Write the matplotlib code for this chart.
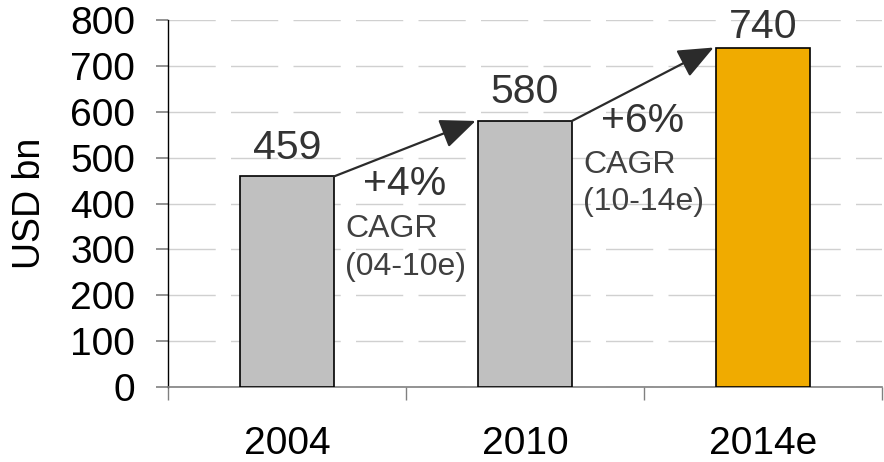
import matplotlib
matplotlib.use("Agg")
import matplotlib.pyplot as plt

categories = ["2004", "2010", "2014e"]
values = [459, 580, 740]
bar_colors = ["#C0C0C0", "#C0C0C0", "#F0AB00"]
growth_labels = ["+4%", "+6%"]
cagr_periods = ["(04-10e)", "(10-14e)"]
yticks = [0, 100, 200, 300, 400, 500, 600, 700, 800]

plt.rcParams['font.family'] = ['Liberation Sans', 'DejaVu Sans']

fig = plt.figure(figsize=(8.84, 4.62), dpi=100)
ax = fig.add_axes([168/884, 1-387/462, (882-168)/884, (387-20)/462])

x = list(range(len(categories)))
bw = 0.395
ax.bar(x, values, width=bw, color=bar_colors, edgecolor="black", linewidth=1.2, zorder=3)

ax.set_xlim(-0.5, 2.5)
ax.set_ylim(0, 800)
ax.set_yticks(yticks)
ax.set_yticklabels([str(v) for v in yticks])
ax.set_xticks(x)
ax.set_xticklabels(categories)
ax.set_xticks([-0.5, 0.5, 1.5, 2.5], minor=True)

ax.grid(axis="y", color="#D0D0D0", linewidth=1.0, linestyle=(0, (34, 11)), zorder=0)
ax.set_axisbelow(True)

for s in ["top", "right"]:
    ax.spines[s].set_visible(False)
ax.spines["left"].set_color("black")
ax.spines["left"].set_linewidth(1.0)
ax.spines["bottom"].set_color("#808080")
ax.spines["bottom"].set_linewidth(1.2)

ax.tick_params(axis="y", direction="out", length=8.6, width=1.2, color="#808080",
               labelsize=28, pad=15, labelcolor="black")
ax.tick_params(axis="x", which="major", length=0, labelsize=28, pad=48, labelcolor="black")
ax.tick_params(axis="x", which="minor", direction="out", length=9, width=1.0, color="#808080")
for lbl in ax.get_xticklabels():
    lbl.set_verticalalignment("baseline")

fig.text(30/884, 1-203/462, "USD bn", rotation=90, fontsize=27, ha="center", va="center")

# value labels (baseline offset above bar, last one tucked lower to fit)
label_offsets = [39, 39, 20]
for xi, v, off in zip(x, values, label_offsets):
    ax.text(xi, v + off, str(v), ha="center", va="baseline", fontsize=29.5,
            color="#333333", zorder=4)

# arrows between bars
for i in range(len(values) - 1):
    ax.annotate("", xy=(x[i+1] - bw/2 - 0.01, values[i+1]), xytext=(x[i] + bw/2, values[i]),
                arrowprops=dict(arrowstyle="-|>,head_length=1.0,head_width=0.42",
                                mutation_scale=22, color="#2B2B2B", lw=1.6,
                                shrinkA=0, shrinkB=0), zorder=5)

# growth annotations
growth_pos = [(0.496, 418), (1.496, 556)]
cagr_pos = [(0.244, 327, 244), (1.244, 466, 386)]
for g, (gx, gy) in zip(growth_labels, growth_pos):
    ax.text(gx, gy, g, ha="center", va="baseline", fontsize=29.5, color="#333333", zorder=4)
for p, (cx, cy, py) in zip(cagr_periods, cagr_pos):
    ax.text(cx, cy, "CAGR", ha="left", va="baseline", fontsize=23, color="#404040", zorder=4)
    ax.text(cx, py, p, ha="left", va="baseline", fontsize=23, color="#404040", zorder=4)

fig.savefig("out.png", dpi=100)
